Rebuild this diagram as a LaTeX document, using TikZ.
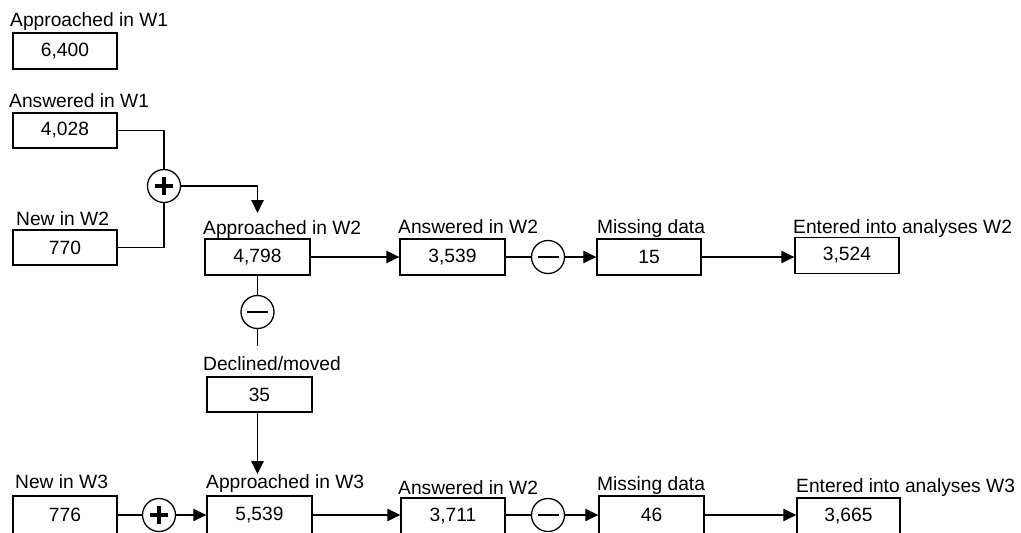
\documentclass[tikz,border=0pt]{standalone}
\usepackage{fontspec}
\setmainfont{Liberation Sans}
\usetikzlibrary{arrows.meta}
\tikzset{
  every node/.style={font=\fontsize{19.2}{22}\selectfont},
  conn/.style={line width=1.3pt},
  arr/.style={conn,-{Triangle[length=13pt,width=12.5pt]}},
  box/.style={draw,line width=1.4pt,minimum width=104pt,minimum height=36pt,inner sep=0pt},
  lbl/.style={inner sep=0pt,anchor=base west},
  opc/.style={draw,circle,line width=1.3pt,minimum size=33pt,inner sep=0pt},
  plusc/.style={opc,path picture={
    \draw[line width=3.2pt] ([xshift=-9pt]path picture bounding box.center) -- ([xshift=9pt]path picture bounding box.center);
    \draw[line width=3.2pt] ([yshift=-9pt]path picture bounding box.center) -- ([yshift=9pt]path picture bounding box.center);}},
  minusc/.style={opc,path picture={
    \draw[line width=1.5pt] ([xshift=-10.5pt]path picture bounding box.center) -- ([xshift=10.5pt]path picture bounding box.center);}}
}
\begin{document}
\begin{tikzpicture}[x=1pt,y=1pt]
\useasboundingbox (0,0) rectangle (1021,-533);
% labels
\node[lbl] (lA1) at (10,-26) {Approached in W1};
\node[lbl] (lR1) at (9,-107) {Answered in W1};
\node[lbl] (lN2) at (16,-225) {New in W2};
\node[lbl] (lA2) at (203,-234) {Approached in W2};
\node[lbl] (lR2) at (398,-233) {Answered in W2};
\node[lbl] (lM2) at (597,-233) {Missing data};
\node[lbl] (lE2) at (793,-233) {Entered into analyses W2};
\node[lbl] (lD) at (203,-370) {Declined/moved};
\node[lbl] (lN3) at (15,-488) {New in W3};
\node[lbl] (lA3) at (206,-488) {Approached in W3};
\node[lbl] (lR3) at (398,-494) {Answered in W2};
\node[lbl] (lM3) at (597,-490) {Missing data};
\node[lbl] (lE3) at (796,-492) {Entered into analyses W3};
% boxes
\node[box] (b6400) at (65,-51) {6,400};
\node[box,minimum height=35pt] (b4028) at (65,-130.5) {4,028};
\node[box,minimum height=35pt] (b770) at (65,-247.5) {770};
\node[box,minimum width=105pt] (b4798) at (257.5,-257) {4,798};
\node[box,minimum width=105pt] (b3539) at (452.5,-257) {3,539};
\node[box] (b15) at (649,-257) {15};
\node[box] (b3524) at (847,-255.5) {3,524};
\node[box,minimum width=105pt,minimum height=35pt] (b35) at (259.5,-394.5) {35};
\node[box,minimum height=38pt] (b776) at (65,-515) {776};
\node[box,minimum width=105pt,minimum height=38pt] (b5539) at (259.5,-515) {5,539};
\node[box,minimum height=36pt] (b3711) at (453,-516) {3,711};
\node[box,minimum width=105pt,minimum height=38pt] (b46) at (651.5,-515) {46};
\node[box,minimum width=103pt,minimum height=36pt] (b3665) at (848.5,-516) {3,665};
% operators
\node[plusc] (p1) at (164,-186) {};
\node[minusc] (m1) at (548,-257) {};
\node[minusc] (m2) at (257.5,-312) {};
\node[plusc] (p2) at (159,-515) {};
\node[minusc] (m3) at (548,-515) {};
% free ends
\coordinate (tA2) at (257.5,-213);
\coordinate (eD) at (257.5,-346);
\coordinate (tA3) at (257.5,-474);
% connectors
\draw[conn] (b4028.east) -| (p1.north);
\draw[conn] (b770.east) -| (p1.south);
\draw[arr] (p1.east) -| (tA2);
\draw[arr] (b4798.east) -- (b3539.west);
\draw[conn] (b3539.east) -- (m1.west);
\draw[arr] (m1.east) -- (b15.west);
\draw[arr] (b15.east) -- (b15.east -| b3524.west);
\draw[conn] (b4798.south) -- (m2.north);
\draw[conn] (m2.south) -- (eD);
\draw[arr] (b35.south -| tA3) -- (tA3);
\draw[conn] (b776.east) -- (p2.west);
\draw[arr] (p2.east) -- (b5539.west);
\draw[arr] (b5539.east) -- (b5539.east -| b3711.west);
\draw[conn] (b3711.east |- m3.west) -- (m3.west);
\draw[arr] (m3.east) -- (m3.east -| b46.west);
\draw[arr] (b46.east) -- (b46.east -| b3665.west);
\end{tikzpicture}
\end{document}
